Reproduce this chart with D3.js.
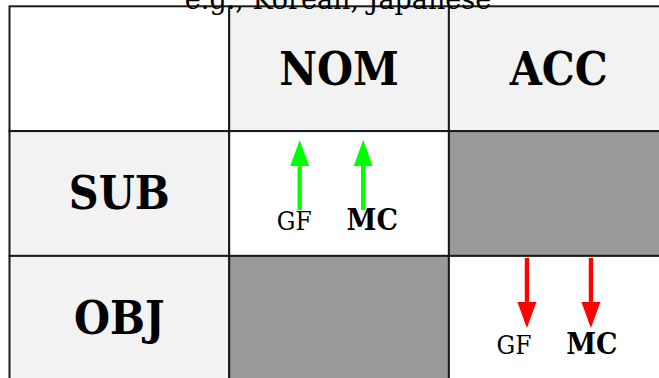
<!DOCTYPE html>
<html>
<head>
<meta charset="utf-8">
<script src="https://cdn.jsdelivr.net/npm/d3@7"></script>
<style>
  html, body { margin: 0; padding: 0; background: #fff; overflow: hidden; }
  svg { display: block; }
</style>
</head>
<body>
<svg id="chart" width="659" height="378"></svg>
<script>
// ---- data ----
const title = "e.g., Korean, Japanese";
const columns = ["", "NOM", "ACC"];
const rows = ["", "SUB", "OBJ"];
// cell kinds: header / blank / empty (blocked) / open
const cellKinds = [
  ["blank",  "header", "header"],
  ["header", "open",   "blocked"],
  ["header", "blocked","open"]
];
const markers = ["GF", "MC"];
const markerBold = [false, true];
// arrows: [row, col, direction]
const arrowCells = [
  { row: "SUB", col: "NOM", dir: "up",   color: "#00ff00" },
  { row: "OBJ", col: "ACC", dir: "down", color: "#ff0000" }
];

// ---- layout ----
const svg = d3.select("#chart");
const x0 = 9.5, cw = 219.7, y0 = 6.3, ch = 124.8;
const x = d3.scaleBand().domain(d3.range(columns.length)).range([x0, x0 + cw * columns.length]).padding(0);
const y = d3.scaleBand().domain(d3.range(rows.length)).range([y0, y0 + ch * rows.length]).padding(0);
const fill = { blank: "#ffffff", header: "#f2f2f2", blocked: "#999999", open: "#ffffff" };

const cells = [];
cellKinds.forEach((r, i) => r.forEach((k, j) => cells.push({ i, j, k })));

svg.selectAll("rect.cell").data(cells).join("rect")
  .attr("class", "cell")
  .attr("x", d => x(d.j)).attr("y", d => y(d.i))
  .attr("width", x.bandwidth()).attr("height", y.bandwidth())
  .attr("fill", d => fill[d.k])
  .attr("stroke", "#1a1a1a").attr("stroke-width", 2);

const headFont = "'DejaVu Serif Condensed', 'DejaVu Serif', serif";
// column headers
svg.selectAll("text.colh").data(columns.map((c, j) => ({ c, j })).filter(d => d.c)).join("text")
  .attr("class", "colh")
  .attr("x", d => x(d.j) + x.bandwidth() / 2)
  .attr("y", y(0) + 79)
  .attr("text-anchor", "middle")
  .attr("font-family", headFont).attr("font-weight", "bold").attr("font-size", 46)
  .text(d => d.c);
// row headers
svg.selectAll("text.rowh").data(rows.map((r, i) => ({ r, i })).filter(d => d.r)).join("text")
  .attr("class", "rowh")
  .attr("x", x(0) + x.bandwidth() / 2)
  .attr("y", d => y(d.i) + 78)
  .attr("text-anchor", "middle")
  .attr("font-family", headFont).attr("font-weight", "bold").attr("font-size", 46)
  .text(d => d.r);

// title
svg.append("text")
  .attr("x", 338).attr("y", 9)
  .attr("text-anchor", "middle")
  .attr("font-family", "'DejaVu Serif', serif").attr("font-size", 27)
  .text(title);

// arrows
const mx = d3.scalePoint().domain(markers).range([65, 143]);
arrowCells.forEach(a => {
  const ci = columns.indexOf(a.col), ri = rows.indexOf(a.row);
  const cx = x(ci), cy = y(ri);
  const g = svg.append("g");
  markers.forEach((m, k) => {
    const ax = cx + mx(m) + (a.dir === "up" ? (k === 0 ? 5.5 : -9) : (k === 0 ? 13 : -1));
    let tail, tip;
    if (a.dir === "up") { tail = cy + 79; tip = cy + 9; }
    else { tail = cy + 2; tip = cy + 72; }
    const headLen = 26, headW = 9.5;
    const sgn = a.dir === "up" ? 1 : -1;
    const base = tip + sgn * headLen;
    g.append("line")
      .attr("x1", ax).attr("y1", tail).attr("x2", ax).attr("y2", base)
      .attr("stroke", a.color).attr("stroke-width", 4.3);
    g.append("path")
      .attr("d", d3.line()([[ax - headW, base], [ax + headW, base], [ax, tip]]) + "Z")
      .attr("fill", a.color);
    g.append("text")
      .attr("x", cx + mx(m))
      .attr("y", cy + (a.dir === "up" ? 99 : 98))
      .attr("text-anchor", "middle")
      .attr("font-family", "'DejaVu Serif Condensed', 'DejaVu Serif', serif")
      .attr("font-weight", markerBold[k] ? "bold" : "normal")
      .attr("font-size", markerBold[k] ? 30 : 26)
      .text(m);
  });
});
</script>
</body>
</html>
